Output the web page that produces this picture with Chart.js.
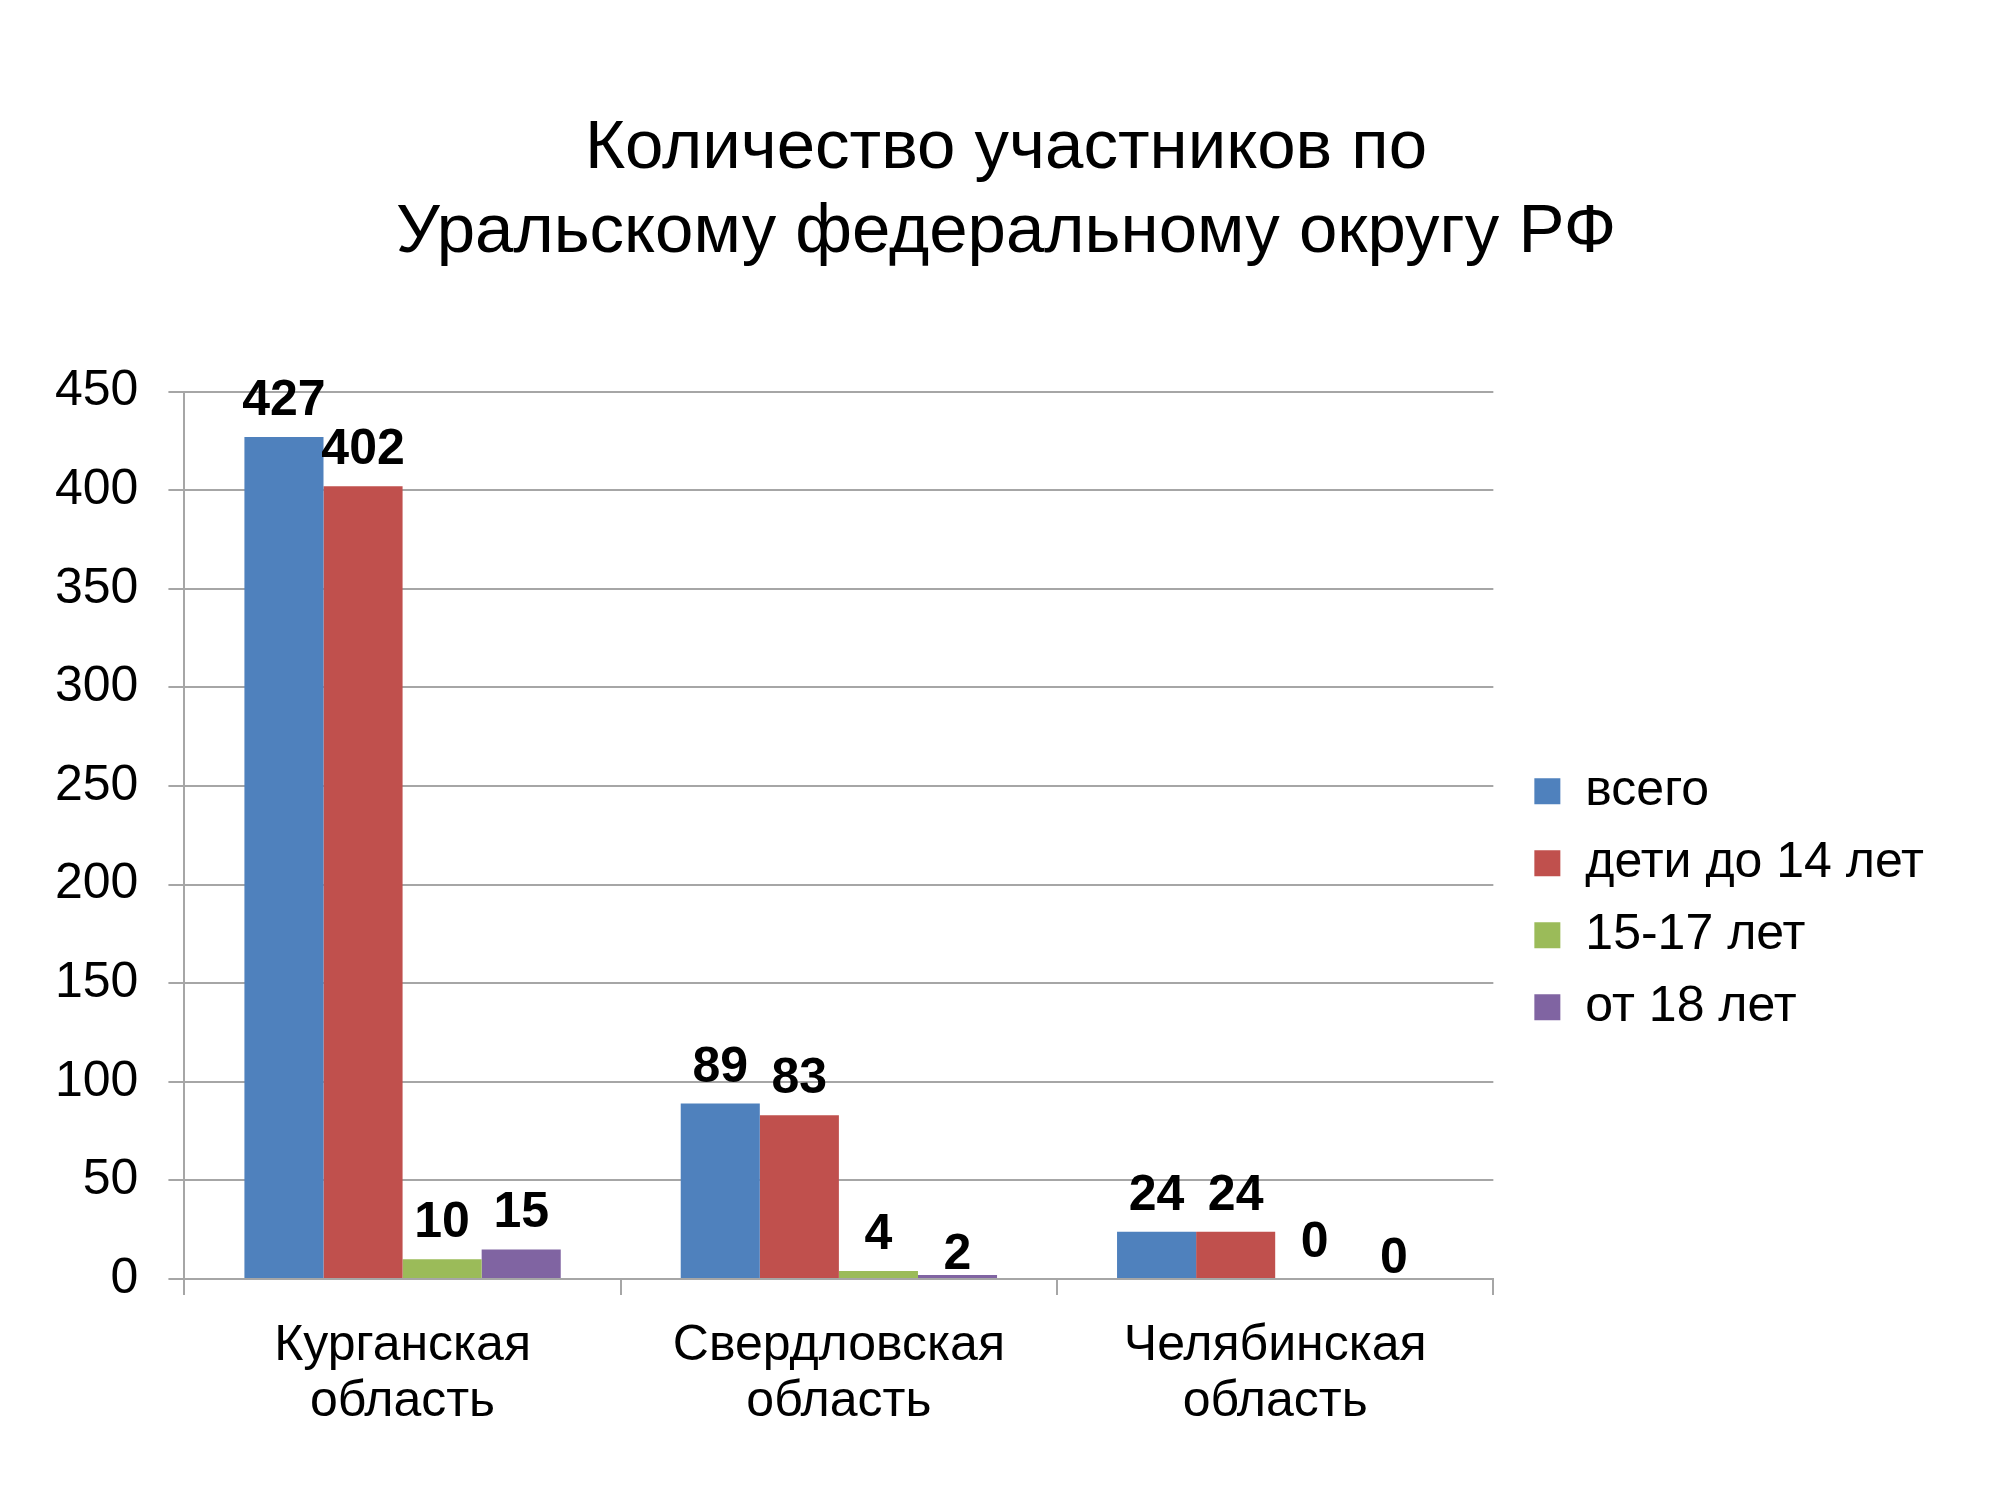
<!DOCTYPE html>
<html>
<head>
<meta charset="utf-8">
<script src="https://cdn.jsdelivr.net/npm/chart.js@4.4.1/dist/chart.umd.min.js"></script>
<style>
  html, body { margin: 0; padding: 0; background: #ffffff; }
  #wrap { width: 2000px; height: 1500px; position: relative; }
</style>
</head>
<body>
<div id="wrap"><canvas id="c" width="2000" height="1500"></canvas></div>
<script>
// ---- data ----
const titleLines = ['Количество участников по', 'Уральскому федеральному округу РФ'];
const categories = [['Курганская', 'область'], ['Свердловская', 'область'], ['Челябинская', 'область']];
const seriesNames = ['всего', 'дети до 14 лет', '15-17 лет', 'от 18 лет'];
const totalValues = [427, 89, 24];
const kidsValues = [402, 83, 24];
const teenValues = [10, 4, 0];
const adultValues = [15, 2, 0];
const yMin = 0;
const yMax = 450;
const yStep = 50;

// ---- styles ----
const FONT = '"Liberation Sans", Arial, Helvetica, sans-serif';
const colors = ['#4F81BD', '#C0504D', '#9BBB59', '#8064A2'];
const gridColor = '#A6A6A6';
// small extra downward nudges of a few value labels (dataset index -> per point)
const labelNudge = { 3: [0, 16, 16] };
const legendGap = 19;      // space between plot area and legend
const titleShift = 36;     // title is slightly right of the canvas centre

const seriesValues = [totalValues, kidsValues, teenValues, adultValues];

const valueLabels = {
  id: 'valueLabels',
  afterDatasetsDraw(chart) {
    const ctx = chart.ctx;
    ctx.save();
    ctx.font = 'bold 50px ' + FONT;
    ctx.fillStyle = '#000000';
    ctx.textAlign = 'center';
    ctx.textBaseline = 'alphabetic';
    chart.data.datasets.forEach((ds, di) => {
      const meta = chart.getDatasetMeta(di);
      meta.data.forEach((bar, i) => {
        const nudge = (labelNudge[di] && labelNudge[di][i]) || 0;
        ctx.fillText(String(ds.data[i]), bar.x, bar.y - 22 + nudge);
      });
    });
    ctx.restore();
  }
};

const boxTweaks = {
  id: 'boxTweaks',
  afterLayout(chart) {
    const lg = chart.legend;
    if (lg) {
      const w = lg.right - lg.left;
      lg.left = chart.chartArea.right + legendGap;
      lg.right = lg.left + w;
    }
    const tb = chart.titleBlock;
    if (tb) { tb.left += titleShift; tb.right += titleShift; }
  }
};

new Chart(document.getElementById('c'), {
  type: 'bar',
  data: {
    labels: categories,
    datasets: seriesNames.map((name, k) => ({
      label: name,
      data: seriesValues[k],
      backgroundColor: colors[k],
      borderWidth: 0,
      categoryPercentage: 0.725,
      barPercentage: 1.0
    }))
  },
  options: {
    responsive: false,
    animation: false,
    devicePixelRatio: 1,
    layout: { padding: { left: 25, right: 85, top: 0, bottom: 47 } },
    plugins: {
      tooltip: { enabled: false },
      title: {
        display: true,
        text: titleLines,
        color: '#000000',
        font: { family: FONT, size: 69, weight: 'normal', lineHeight: 1.215 },
        padding: { top: 107, bottom: 117 }
      },
      legend: {
        display: true,
        position: 'right',
        align: 'center',
        fullSize: false,
        title: { display: true, text: '', padding: { top: 118, bottom: 0 }, font: { size: 10, lineHeight: 1 } },
        labels: {
          color: '#000000',
          font: { family: FONT, size: 50 },
          boxWidth: 26,
          boxHeight: 26,
          padding: 22
        }
      }
    },
    scales: {
      x: {
        offset: true,
        grid: { display: true, offset: true, drawOnChartArea: false, drawTicks: true, tickLength: 16, color: gridColor, lineWidth: 2 },
        border: { display: true, color: gridColor, width: 2 },
        ticks: { color: '#000000', font: { family: FONT, size: 50, lineHeight: 1.12 }, padding: 23, maxRotation: 0, autoSkip: false }
      },
      y: {
        min: yMin,
        max: yMax,
        grid: { color: gridColor, lineWidth: 2, tickLength: 16, drawTicks: true },
        border: { display: true, color: gridColor, width: 2 },
        ticks: { stepSize: yStep, color: '#000000', font: { family: FONT, size: 50 }, padding: 30 }
      }
    }
  },
  plugins: [valueLabels, boxTweaks]
});
</script>
</body>
</html>
